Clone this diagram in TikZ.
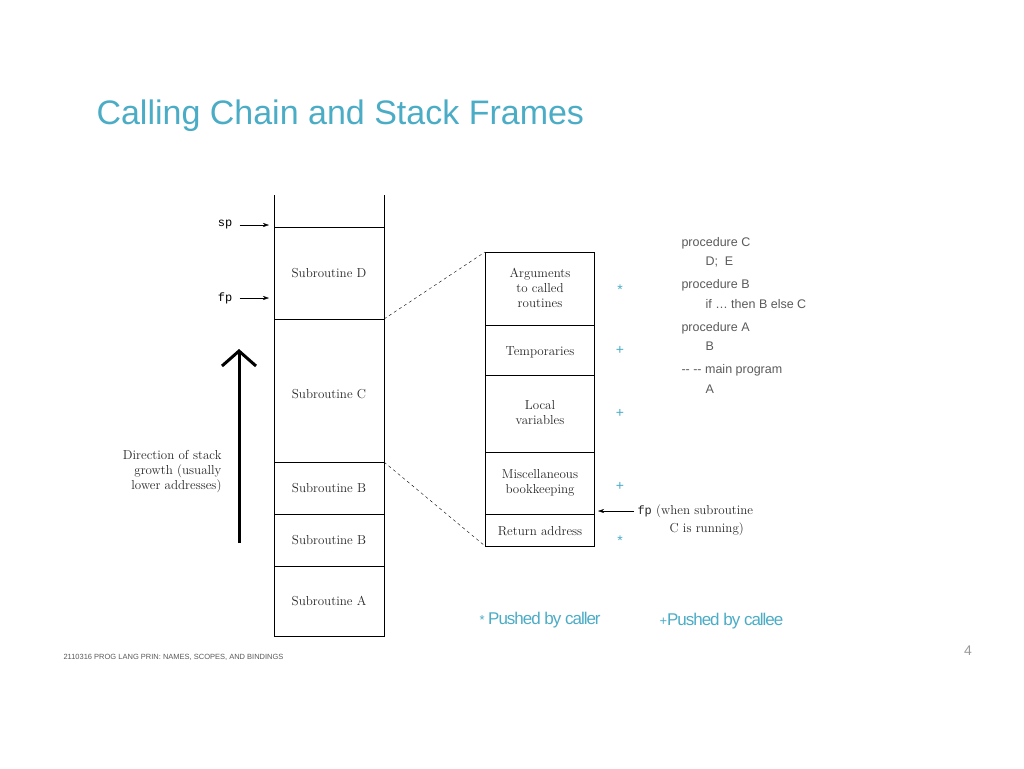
\documentclass[tikz,border=0pt]{standalone}
\usepackage{fontspec}
\setmainfont{Latin Modern Roman}
\newfontfamily\mysf{Liberation Sans}
\newfontfamily\myttf{Liberation Mono}
\usetikzlibrary{arrows.meta}
\definecolor{ttl}{RGB}{75,172,198}
\definecolor{gr}{RGB}{90,90,90}
\begin{document}
\begin{tikzpicture}[x=1pt,y=-1pt,
 lbl/.style={font=\fontsize{13}{15}\selectfont,align=center,text=black!85},
 code/.style={font=\mysf\fontsize{12.5}{14}\selectfont,anchor=west,text=gr},
 mk/.style={font=\mysf\fontsize{14}{14}\selectfont,text=ttl},
 ar/.style={-{Stealth[length=6pt,width=4pt]},thin},
 box/.style={line width=0.8pt}]
\useasboundingbox (0,0) rectangle (1024,768);
\node[anchor=west,text=ttl,font=\mysf\fontsize{34}{36}\selectfont] (title) at (93,116) {Calling Chain and Stack Frames};
% stack
\draw[box] (274,195) -- (274,636) -- (384,636) -- (384,195);
\foreach \y in {227,319,462,514,566} \draw[box] (274,\y) -- (384,\y);
\node[lbl] (sD) at (329,273) {Subroutine D};
\node[lbl] (sC) at (329,394) {Subroutine C};
\node[lbl] (sB1) at (329,488) {Subroutine B};
\node[lbl] (sB2) at (329,540) {Subroutine B};
\node[lbl] (sA) at (329,601) {Subroutine A};
\coordinate (c1) at (384,319); \coordinate (c2) at (384,462);
\node[font=\myttf\fontsize{12}{12}\selectfont] (sp) at (225,225) {sp};
\node[font=\myttf\fontsize{12}{12}\selectfont] (fp) at (225,298) {fp};
\coordinate (spe) at (269,225); \coordinate (fpe) at (269,298);
\draw[ar] (sp.east)++(4,0) -- (spe);
\draw[ar] (fp.east)++(4,0) -- (fpe);
\coordinate (ga) at (239,543); \coordinate (gb) at (239,352);
\draw[line width=3pt] (ga) -- (gb);
\draw[line width=3pt] (222,366) -- (239,351) -- (256,366);
\node[lbl,align=right,anchor=east] (dir) at (225,472) {Direction of stack\\growth (usually\\lower addresses)};
% frame
\draw[box] (485,252) rectangle (594,546);
\foreach \y in {325,375,452,514} \draw[box] (485,\y) -- (594,\y);
\coordinate (f1) at (485,252); \coordinate (f2) at (485,546);
\draw[dashed,thin] (c1) -- (f1);
\draw[dashed,thin] (c2) -- (f2);
\node[lbl] (arg) at (540,288) {Arguments\\to called\\routines};
\node[lbl] (tmp) at (540,352) {Temporaries};
\node[lbl] (loc) at (540,413) {Local\\variables};
\node[lbl] (misc) at (540,483) {Miscellaneous\\bookkeeping};
\node[lbl] (ret) at (540,531) {Return address};
\node[mk] (m1) at (620,290) {*};
\node[mk] (m2) at (620,350) {+};
\node[mk] (m3) at (620,413) {+};
\node[mk] (m4) at (620,486) {+};
\node[mk] (m5) at (620,541) {*};
\coordinate (fpt) at (598,511);
\node[anchor=west,lbl,align=left] (fp2) at (634,511) {{\myttf\fontsize{12}{12}\selectfont fp} (when subroutine};
\node[anchor=west,lbl] (fp3) at (666,529) {C is running)};
\draw[ar] (fp2.west) -- (fpt);
% code
\node[code] (k1) at (678,243) {procedure C};
\node[code] (k2) at (702,262) {D;\ \ E};
\node[code] (k3) at (678,285) {procedure B};
\node[code] (k4) at (702,304) {if \dots\ then B else C};
\node[code] (k5) at (678,328) {procedure A};
\node[code] (k6) at (702,346) {B};
\node[code] (k7) at (678,370) {-- -- main program};
\node[code] (k8) at (702,389) {A};
% legend
\node[anchor=west,text=ttl,font=\mysf\fontsize{17}{17}\selectfont] (l1) at (476,620) {\fontsize{13}{13}\selectfont*\ \fontsize{17}{17}\selectfont\addfontfeature{LetterSpace=-6}Pushed by caller};
\node[anchor=west,text=ttl,font=\mysf\fontsize{17}{17}\selectfont] (l2) at (656,621) {\fontsize{13}{13}\selectfont+\fontsize{17}{17}\selectfont\addfontfeature{LetterSpace=-6}Pushed by callee};
% footer
\node[anchor=west,text=gr,font=\mysf\fontsize{7.5}{8}\selectfont] (ft) at (60,657) {2110316 PROG LANG PRIN: NAMES, SCOPES, AND BINDINGS};
\node[text=black!40,font=\mysf\fontsize{14}{14}\selectfont] (pg) at (968,651) {4};
\end{tikzpicture}
\end{document}
